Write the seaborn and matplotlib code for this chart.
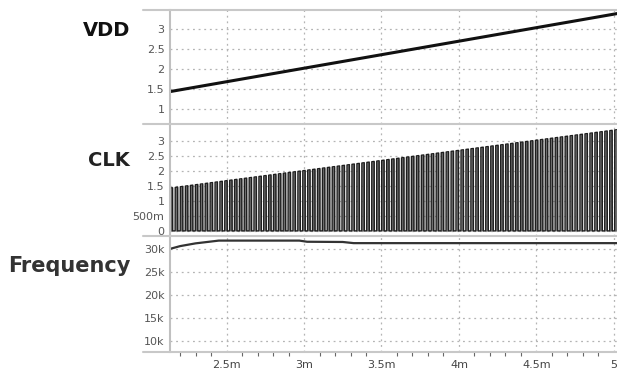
import numpy as np
import seaborn as sns
import matplotlib.pyplot as plt
from matplotlib.lines import Line2D
from matplotlib.ticker import MultipleLocator

# time axis in ms
x_range = [2.135, 5.02]
x_ticks = [2.5, 3.0, 3.5, 4.0, 4.5, 5.0]
x_labels = ['2.5m', '3m', '3.5m', '4m', '4.5m', '5']

# VDD ramp (V)
vdd_t = [2.135, 5.02]
vdd_v = [1.43, 3.38]

# clock frequency (kHz)
freq_t = [2.135, 2.2, 2.3, 2.4, 2.45, 2.97, 3.02, 3.25, 3.32, 5.02]
freq_k = [30.0, 30.6, 31.2, 31.6, 31.8, 31.8, 31.55, 31.5, 31.25, 31.25]

vdd_ticks = [1, 1.5, 2, 2.5, 3]
vdd_labels = ['1', '1.5', '2', '2.5', '3']
clk_ticks = [0, 0.5, 1, 1.5, 2, 2.5, 3]
clk_labels = ['0', '500m', '1', '1.5', '2', '2.5', '3']
freq_ticks = [10, 15, 20, 25, 30]
freq_labels = ['10k', '15k', '20k', '25k', '30k']

# CLK: square wave 0..VDD whose rate follows the frequency trace
t = np.linspace(x_range[0], x_range[1], 40000)
vdd = np.interp(t, vdd_t, vdd_v)
cycles = np.concatenate([[0], np.cumsum(np.interp(t, freq_t, freq_k)[1:] * np.diff(t))])
clk = np.where((cycles % 1.0) < 0.5, vdd, 0.0)

sns.set_style('white')
plt.rcParams['font.family'] = ['DejaVu Sans']

W, H = 617, 369
fig = plt.figure(figsize=(W / 100, H / 100), dpi=100)

left = 170 / W
width = 1 - left
panels = [(10, 124), (124, 236), (236, 352)]
axes = []
for top, bot in panels:
    ax = fig.add_axes([left, 1 - bot / H, width, (bot - top) / H])
    axes.append(ax)
ax_v, ax_c, ax_f = axes

grid_kw = dict(color='#b4b4b4', linestyle=(0, (1.5, 3)), linewidth=0.9)

sns.lineplot(x=vdd_t, y=vdd_v, ax=ax_v, color='#111111', linewidth=2.2, estimator=None)
ax_c.fill_between(t, 0, clk, color='#6e6e6e', linewidth=0)
sns.lineplot(x=t, y=clk, ax=ax_c, color='#1e1e1e', linewidth=1.0, estimator=None, sort=False)
sns.lineplot(x=freq_t, y=freq_k, ax=ax_f, color='#333333', linewidth=1.6, estimator=None)

ax_v.set_ylim(0.62, 3.47)
ax_c.set_ylim(-0.17, 3.57)
ax_f.set_ylim(7.6, 32.8)
for ax, ticks, labels in [(ax_v, vdd_ticks, vdd_labels), (ax_c, clk_ticks, clk_labels),
                          (ax_f, freq_ticks, freq_labels)]:
    ax.set_xlim(x_range)
    ax.set_yticks(ticks)
    ax.set_yticklabels(labels)
    ax.set_xticks(x_ticks)
    ax.grid(True, **grid_kw)
    ax.tick_params(axis='y', direction='out', length=3, width=0.8, color='#999999',
                   labelsize=8, labelcolor='#555555', pad=1)
    ax.tick_params(axis='x', labelbottom=False, length=0)
    for side in ['top', 'bottom', 'right']:
        ax.spines[side].set_visible(False)
    ax.spines['left'].set_color('#c0c0c0')
    ax.spines['left'].set_linewidth(1.5)
    ax.set_xlabel('')
    ax.set_ylabel('')
    ax.set_facecolor('white')

ax_f.set_xticklabels(x_labels)
ax_f.xaxis.set_minor_locator(MultipleLocator(0.1))
ax_f.tick_params(axis='x', which='major', labelbottom=True, direction='out', length=5,
                 width=0.8, color='#666666', labelsize=8, labelcolor='#444444', pad=1)
ax_f.tick_params(axis='x', which='minor', bottom=True, direction='out', length=3,
                 width=0.8, color='#666666')

# panel separators
for y in [10, 124, 236, 352]:
    fig.add_artist(Line2D([143 / W, 1], [1 - y / H, 1 - y / H], color='#c8c8c8',
                          linewidth=1.5, transform=fig.transFigure))

fig.text(130 / W, 1 - 30 / H, 'VDD', ha='right', va='center', fontsize=14,
         fontweight='bold', color='#111111')
fig.text(130 / W, 1 - 160 / H, 'CLK', ha='right', va='center', fontsize=14,
         fontweight='bold', color='#222222')
fig.text(130 / W, 1 - 266 / H, 'Frequency', ha='right', va='center', fontsize=15,
         fontweight='bold', color='#333333')

fig.savefig('out.png', dpi=100, facecolor='white')
